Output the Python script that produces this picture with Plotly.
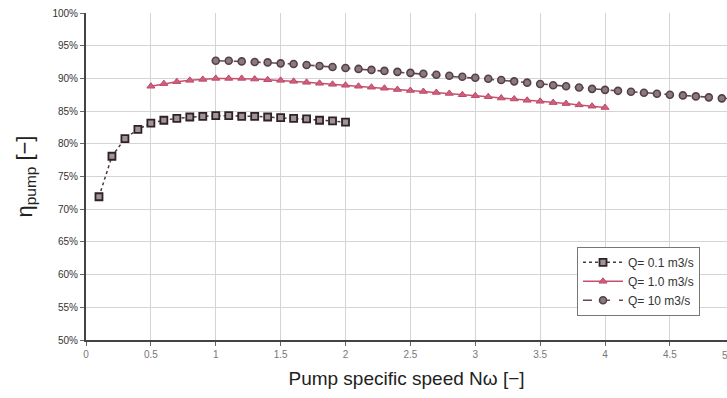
import plotly.graph_objects as go

# Data
x_q01 = [0.1, 0.2, 0.3, 0.4, 0.5, 0.6, 0.7, 0.8, 0.9, 1.0, 1.1, 1.2, 1.3, 1.4, 1.5, 1.6, 1.7, 1.8, 1.9, 2.0]
eta_q01 = [71.9, 78.1, 80.8, 82.2, 83.15, 83.6, 83.9, 84.1, 84.2, 84.3, 84.3, 84.2, 84.2, 84.1, 84.0,
           83.9, 83.8, 83.6, 83.5, 83.3]

x_q1 = [0.5, 0.6, 0.7, 0.8, 0.9, 1.0, 1.1, 1.2, 1.3, 1.4, 1.5, 1.6, 1.7, 1.8, 1.9, 2.0, 2.1, 2.2, 2.3, 2.4,
        2.5, 2.6, 2.7, 2.8, 2.9, 3.0, 3.1, 3.2, 3.3, 3.4, 3.5, 3.6, 3.7, 3.8, 3.9, 4.0]
eta_q1 = [88.8, 89.2, 89.5, 89.7, 89.85, 90.0, 90.0, 90.0, 89.9, 89.8, 89.7, 89.55, 89.4, 89.25, 89.1,
          88.95, 88.8, 88.65, 88.5, 88.3, 88.15, 88.0, 87.85, 87.7, 87.5, 87.35, 87.2, 87.0, 86.85,
          86.65, 86.5, 86.3, 86.15, 85.95, 85.75, 85.55]

x_q10 = [1.0, 1.1, 1.2, 1.3, 1.4, 1.5, 1.6, 1.7, 1.8, 1.9, 2.0, 2.1, 2.2, 2.3, 2.4, 2.5, 2.6, 2.7, 2.8, 2.9,
         3.0, 3.1, 3.2, 3.3, 3.4, 3.5, 3.6, 3.7, 3.8, 3.9, 4.0, 4.1, 4.2, 4.3, 4.4, 4.5, 4.6, 4.7, 4.8, 4.9, 5.0]
eta_q10 = [92.7, 92.7, 92.6, 92.5, 92.45, 92.3, 92.2, 92.05, 91.9, 91.75, 91.6, 91.45, 91.3, 91.15, 91.0,
           90.85, 90.7, 90.55, 90.4, 90.25, 90.1, 89.95, 89.75, 89.55, 89.35, 89.15, 88.95, 88.8, 88.6,
           88.4, 88.25, 88.1, 87.95, 87.8, 87.65, 87.5, 87.4, 87.25, 87.1, 86.95, 86.85]

x_ticks = [0, 0.5, 1, 1.5, 2, 2.5, 3, 3.5, 4, 4.5]
x_tick_text = ["0", "0.5", "1", "1.5", "2", "2.5", "3", "3.5", "4", "4.5"]
y_ticks = [50, 55, 60, 65, 70, 75, 80, 85, 90, 95, 100]
y_tick_text = ["50%", "55%", "60%", "65%", "70%", "75%", "80%", "85%", "90%", "95%", "100%"]

names = ["Q= 0.1 m3/s", "Q= 1.0 m3/s", "Q= 10 m3/s"]

fig = go.Figure()
fig.add_trace(go.Scatter(
    x=x_q01, y=eta_q01, name=names[0], mode="lines+markers",
    line=dict(color="#4a3a40", width=1.5, dash="dot"),
    marker=dict(symbol="square", size=7, color="#a09498", line=dict(color="#2e2226", width=1.8)),
))
fig.add_trace(go.Scatter(
    x=x_q1, y=eta_q1, name=names[1], mode="lines+markers",
    line=dict(color="#c8506e", width=1.5),
    marker=dict(symbol="triangle-up", size=7, color="#cc6080", line=dict(color="#c04866", width=1)),
))
fig.add_trace(go.Scatter(
    x=x_q10, y=eta_q10, name=names[2], mode="lines+markers",
    line=dict(color="#62484f", width=1.6, dash="dash"),
    marker=dict(symbol="circle", size=7, color="#8a7a80", line=dict(color="#56404a", width=1.6)),
))

fig.update_layout(
    width=727, height=398,
    margin=dict(l=86, r=0, t=13, b=58),
    paper_bgcolor="white", plot_bgcolor="white",
    font=dict(family="Liberation Sans, Arial, sans-serif", color="#333"),
    showlegend=True,
    legend=dict(
        x=0.766, y=0.285, xanchor="left", yanchor="top",
        bgcolor="white", bordercolor="#777", borderwidth=1,
        font=dict(size=12, color="#333"),
        itemwidth=40, tracegroupgap=4,
    ),
    xaxis=dict(
        range=[0, 4.94], tickmode="array", tickvals=x_ticks, ticktext=x_tick_text,
        showgrid=True, gridcolor="#d4d4d4", gridwidth=1,
        showline=True, linecolor="#444", linewidth=2,
        ticks="outside", ticklen=4, tickcolor="#666",
        tickfont=dict(size=10, color="#777"),
        zeroline=False,
        title=dict(text="Pump specific speed Nω [−]", font=dict(size=19, color="#222"), standoff=13),
    ),
    yaxis=dict(
        range=[50, 100], tickmode="array", tickvals=y_ticks, ticktext=y_tick_text,
        showgrid=True, gridcolor="#d4d4d4", gridwidth=1,
        showline=True, linecolor="#444", linewidth=2,
        ticks="outside", ticklen=4, tickcolor="#666",
        tickfont=dict(size=10, color="#333"),
        zeroline=False,
        title=dict(text="η<sub>pump</sub> [−]", font=dict(size=22, color="#222"), standoff=14),
    ),
)

fig.add_annotation(
    text="5", xref="paper", yref="paper", x=1, y=0, xanchor="center", yanchor="top",
    xshift=-2, yshift=-8, showarrow=False, font=dict(size=10, color="#777"),
)

fig.write_html("out.html")
